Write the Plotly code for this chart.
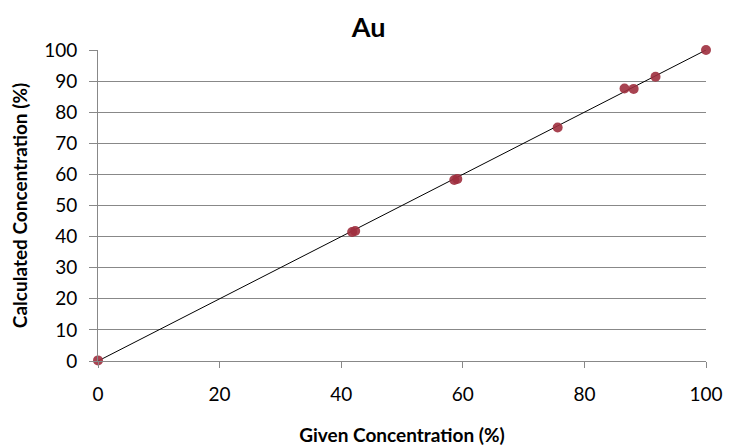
import plotly.graph_objects as go

# PLOT DATA
given = [0, 41.8, 42.3, 58.6, 59.1, 75.6, 86.6, 88.1, 91.7, 100]
calculated = [0.2, 41.5, 41.8, 58.2, 58.5, 75.1, 87.6, 87.5, 91.4, 100]

# trend line end points
fit_x = [0, 100]
fit_y = [0, 100]

x_ticks = [0, 20, 40, 60, 80, 100]
y_ticks = [0, 10, 20, 30, 40, 50, 60, 70, 80, 90, 100]

font_family = "Lato, Open Sans, sans-serif"

fig = go.Figure()
fig.add_trace(go.Scatter(
    x=fit_x, y=fit_y, mode="lines",
    line=dict(color="black", width=1),
    showlegend=False, hoverinfo="skip",
))
fig.add_trace(go.Scatter(
    x=given, y=calculated, mode="markers",
    marker=dict(color="#9e2f3e", size=10, opacity=0.9),
    cliponaxis=False, showlegend=False,
))

# page body has an 8px margin, so margins are shifted to compensate
fig.update_layout(
    width=736, height=447,
    margin=dict(l=90, r=38, t=42, b=94),
    paper_bgcolor="white", plot_bgcolor="white",
    font=dict(family=font_family, size=19, color="black"),
    title=dict(text="<b>Au</b>", x=0.49, xanchor="center", y=0.978, yanchor="top",
               pad=dict(t=0), font=dict(size=27, family=font_family, color="black")),
)
fig.update_xaxes(
    range=[0, 100], tickvals=x_ticks, showgrid=False, zeroline=False,
    showline=True, linecolor="#888888", linewidth=1,
    ticks="outside", ticklen=6, tickcolor="#888888",
    tickfont=dict(size=19), ticklabelstandoff=10, automargin=False,
    title=dict(text="<b>Given Concentration (%)</b>", font=dict(size=19), standoff=24),
)
fig.update_yaxes(
    range=[0, 100], tickvals=y_ticks, showgrid=True, gridcolor="#888888", gridwidth=1,
    zeroline=False, showline=True, linecolor="#888888", linewidth=1,
    ticks="outside", ticklen=8, tickcolor="#888888",
    tickfont=dict(size=19), ticklabelstandoff=8, automargin=False,
    title=dict(text="<b>Calculated Concentration (%)</b>", font=dict(size=19), standoff=12),
)

fig.write_html("out.html")
